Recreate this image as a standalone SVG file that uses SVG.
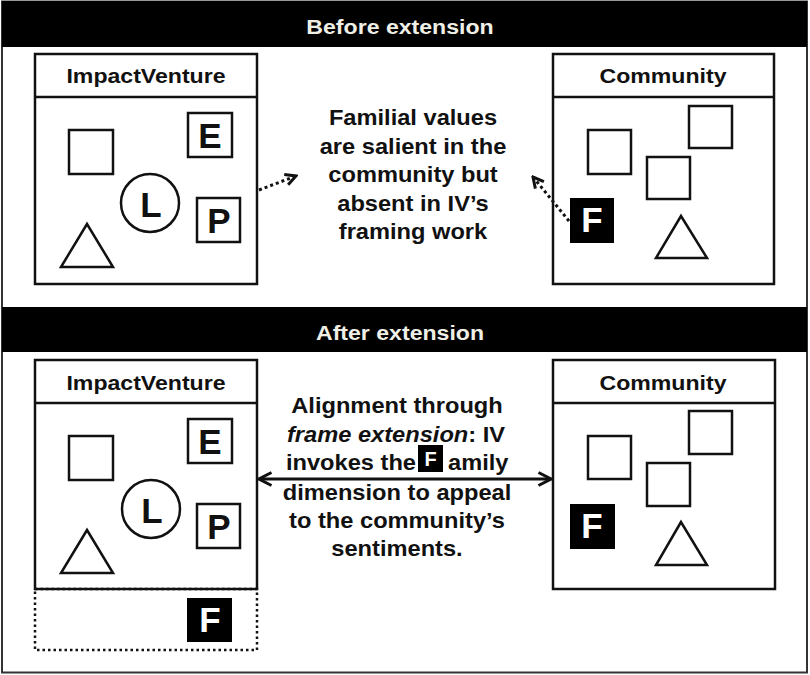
<svg xmlns="http://www.w3.org/2000/svg" width="810" height="675" viewBox="0 0 810 675">
<defs>
<style>
text{font-family:"Liberation Sans",Arial,sans-serif;font-weight:bold;fill:#111;}
.band{font-size:21px;fill:#efefe6;text-anchor:middle;}
.hdr{font-size:21px;text-anchor:middle;}
.body{font-size:21.5px;text-anchor:middle;}
.ltr{font-size:35px;text-anchor:middle;}
.wl{fill:#fff;}
.box{fill:#fff;stroke:#111;stroke-width:2.5;}
.shape{fill:#fff;stroke:#111;stroke-width:2.5;}
.blk{fill:#000;stroke:none;}
.dot{fill:none;stroke:#111;stroke-width:2.5;stroke-dasharray:2.5 3;}
.dotc{fill:none;stroke:#111;stroke-width:3;stroke-dasharray:3 3;}
.conn{fill:none;stroke:#111;stroke-width:3;}
</style>
<marker id="ah" viewBox="0 0 16 16" refX="14" refY="8" markerWidth="16" markerHeight="16" markerUnits="userSpaceOnUse" orient="auto-start-reverse">
<path d="M1.5,1.5 L14,8 L1.5,14.5" fill="none" stroke="#111" stroke-width="3"/>
</marker>
<marker id="ahs" viewBox="0 0 14 14" refX="12" refY="7" markerWidth="14" markerHeight="14" markerUnits="userSpaceOnUse" orient="auto">
<path d="M1.5,1.5 L12,7 L1.5,12.5" fill="none" stroke="#111" stroke-width="3"/>
</marker>
</defs>
<rect x="0" y="0" width="810" height="675" fill="#fff"/>
<rect x="2" y="1.5" width="805" height="671" fill="#fff" stroke="#333" stroke-width="2"/>
<g id="band-before">
<rect x="2" y="1" width="805" height="46" fill="#000"/>
<text class="band" transform="translate(400,34) scale(1.1,1)">Before extension</text>
</g>
<g id="band-after">
<rect x="2" y="307" width="805" height="45" fill="#000"/>
<text class="band" transform="translate(400,340) scale(1.1,1)">After extension</text>
</g>

<g id="iv-before">
<rect class="box" x="35" y="54" width="222" height="230"/>
<line x1="35" y1="97" x2="257" y2="97" stroke="#111" stroke-width="2.5"/>
<text class="hdr" transform="translate(146,83) scale(1.1,1)">ImpactVenture</text>
<rect class="shape" x="69" y="130" width="44" height="44"/>
<rect class="shape" x="188" y="113" width="44" height="44"/>
<text class="ltr" x="210" y="148">E</text>
<circle class="shape" cx="150" cy="203" r="29"/>
<text class="ltr" x="151" y="217">L</text>
<rect class="shape" x="197" y="198" width="43" height="44"/>
<text class="ltr" x="219" y="233">P</text>
<polygon class="shape" points="87,224 61,267 113,267"/>
</g>

<g id="community-before">
<rect class="box" x="553" y="54" width="221" height="230"/>
<line x1="553" y1="97" x2="774" y2="97" stroke="#111" stroke-width="2.5"/>
<text class="hdr" transform="translate(663,83) scale(1.1,1)">Community</text>
<rect class="shape" x="588" y="130" width="43" height="44"/>
<rect class="shape" x="689" y="106" width="43" height="42"/>
<rect class="shape" x="647" y="157" width="43" height="42"/>
<rect class="blk" x="570" y="198" width="44" height="45"/>
<text class="ltr wl" x="592" y="232">F</text>
<polygon class="shape" points="681,216 656,258 707,258"/>
</g>

<g id="note-before">
<text class="body" transform="translate(413,125) scale(1.1,1)">Familial values</text>
<text class="body" transform="translate(413,153.5) scale(1.1,1)">are salient in the</text>
<text class="body" transform="translate(413,182) scale(1.1,1)">community but</text>
<text class="body" transform="translate(413,210.5) scale(1.1,1)">absent in IV’s</text>
<text class="body" transform="translate(413,239) scale(1.1,1)">framing work</text>
</g>

<g id="iv-after">
<rect class="box" x="35" y="360" width="222" height="229"/>
<line x1="35" y1="403" x2="257" y2="403" stroke="#111" stroke-width="2.5"/>
<text class="hdr" transform="translate(146,390) scale(1.1,1)">ImpactVenture</text>
<rect class="shape" x="69" y="436" width="44" height="44"/>
<rect class="shape" x="188" y="419" width="44" height="44"/>
<text class="ltr" x="210" y="454">E</text>
<circle class="shape" cx="151" cy="509" r="29"/>
<text class="ltr" x="152" y="523">L</text>
<rect class="shape" x="197" y="504" width="43" height="44"/>
<text class="ltr" x="219" y="539">P</text>
<polygon class="shape" points="87,530 61,573 113,573"/>
<rect class="dot" x="35" y="589" width="222" height="61"/>
<rect class="blk" x="187" y="598" width="45" height="44"/>
<text class="ltr wl" x="210" y="632">F</text>
</g>

<g id="community-after">
<rect class="box" x="553" y="360" width="222" height="229"/>
<line x1="553" y1="403" x2="775" y2="403" stroke="#111" stroke-width="2.5"/>
<text class="hdr" transform="translate(663,390) scale(1.1,1)">Community</text>
<rect class="shape" x="588" y="436" width="43" height="43"/>
<rect class="shape" x="689" y="411" width="43" height="43"/>
<rect class="shape" x="647" y="463" width="43" height="43"/>
<rect class="blk" x="570" y="504" width="45" height="45"/>
<text class="ltr wl" x="592" y="538">F</text>
<polygon class="shape" points="681,522 656,565 707,565"/>
</g>

<g id="connectors">
<line class="dotc" x1="259" y1="190" x2="296" y2="176" marker-end="url(#ahs)"/>
<line class="dotc" x1="569" y1="221" x2="533" y2="177" marker-end="url(#ahs)"/>
<line class="conn" x1="259" y1="479" x2="551" y2="479" marker-start="url(#ah)" marker-end="url(#ah)"/>
</g>

<g id="note-after">
<text class="body" transform="translate(397,413) scale(1.1,1)">Alignment through</text>
<text class="body" transform="translate(396,442) scale(1.1,1)"><tspan font-style="italic">frame extension</tspan>: IV</text>
<text class="body" style="text-anchor:end" transform="translate(416,470) scale(1.1,1)">invokes the</text>
<rect class="blk" x="418" y="445" width="25" height="27"/>
<text x="430.5" y="466" style="font-size:20px;text-anchor:middle;fill:#fff">F</text>
<text class="body" style="text-anchor:start" transform="translate(448,470) scale(1.1,1)">amily</text>
<text class="body" transform="translate(397,500) scale(1.1,1)">dimension to appeal</text>
<text class="body" transform="translate(397,528) scale(1.1,1)">to the community’s</text>
<text class="body" transform="translate(397,556) scale(1.1,1)">sentiments.</text>
</g>
</svg>
